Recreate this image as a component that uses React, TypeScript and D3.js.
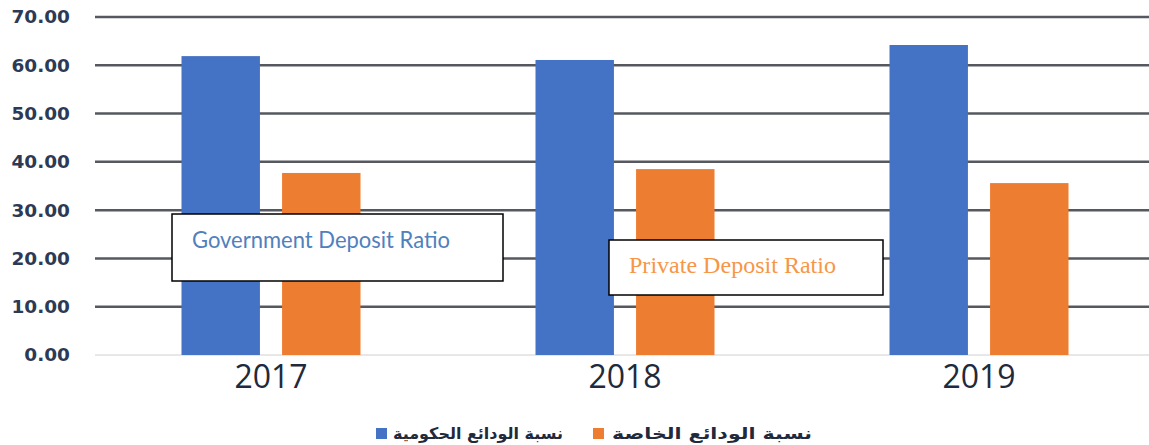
import React from "react";
import * as d3 from "d3";

const years = ["2017", "2018", "2019"];
const series = ["gov", "priv"];
const govValues = [61.9, 61.1, 64.2];
const privValues = [37.7, 38.5, 35.6];
const yTicks = [0, 10, 20, 30, 40, 50, 60, 70];
const legendLabels = ["نسبة الودائع الحكومية", "نسبة الودائع الخاصة"];
const colors = ["#4472c4", "#ed7d31"];

const W = 1149;
const H = 445;

export default function App() {
  const y = d3.scaleLinear().domain([0, 70]).range([355, 17]);
  const x0 = d3.scaleBand<string>().domain(years).range([94, 1156]).padding(0);
  const groupW = 179;
  const x1 = d3.scaleBand<string>().domain(series).range([0, groupW]).paddingInner(0.22).paddingOuter(0);
  const data = years.map((yr, i) => ({ yr, vals: [govValues[i], privValues[i]] }));

  return (
    <svg width={W} height={H} style={{ position: "absolute", left: 0, top: 0, background: "#fff" }}>
      {yTicks.map((t) => (
        <g key={t}>
          <line
            x1={95}
            x2={W}
            y1={y(t)}
            y2={y(t)}
            stroke={t === 0 ? "#d0d0d0" : "#55585e"}
            strokeWidth={t === 0 ? 1 : 2.5}
          />
          <text
            x={70}
            y={y(t)}
            dy="0.35em"
            textAnchor="end"
            fontFamily="DejaVu Sans"
            fontWeight="bold"
            fontSize={18.5}
            fill="#2d3a55"
          >
            {t.toFixed(2)}
          </text>
        </g>
      ))}
      {data.map((d) => {
        const gx = (x0(d.yr) as number) + (x0.bandwidth() - groupW) / 2;
        return (
          <g key={d.yr}>
            {d.vals.map((v, j) => (
              <rect
                key={j}
                x={gx + (x1(series[j]) as number)}
                y={y(v)}
                width={x1.bandwidth()}
                height={y(0) - y(v)}
                fill={colors[j]}
              />
            ))}
            <text
              x={(x0(d.yr) as number) + x0.bandwidth() / 2}
              y={388}
              textAnchor="middle"
              fontFamily="Open Sans"
              fontWeight={500}
              fontSize={32}
              fill="#1f2a3c"
            >
              {d.yr}
            </text>
          </g>
        );
      })}
      {/* annotation boxes */}
      <rect x={172} y={214} width={331} height={67} fill="#fff" stroke="#000" strokeWidth={1.5} />
      <text x={192} y={248} fontFamily="Lato" fontSize={22.5} fill="#4f81bd" textLength={258} lengthAdjust="spacingAndGlyphs">
        Government Deposit Ratio
      </text>
      <rect x={609} y={240} width={274} height={55} fill="#fff" stroke="#000" strokeWidth={1.5} />
      <text x={629} y={273} fontFamily="Liberation Serif" fontSize={23} fill="#f79646" textLength={207} lengthAdjust="spacingAndGlyphs">
        Private Deposit Ratio
      </text>
      {/* legend */}
      <rect x={376} y={428} width={11} height={11} fill={colors[0]} />
      <text x={393} y={439} fontFamily="DejaVu Sans" fontWeight="bold" fontSize={16} fill="#1f2a3c" textLength={170} lengthAdjust="spacingAndGlyphs">
        {legendLabels[0]}
      </text>
      <rect x={593} y={428} width={11} height={11} fill={colors[1]} />
      <text x={612} y={439} fontFamily="DejaVu Sans" fontWeight="bold" fontSize={16} fill="#1f2a3c" textLength={200} lengthAdjust="spacingAndGlyphs">
        {legendLabels[1]}
      </text>
    </svg>
  );
}
